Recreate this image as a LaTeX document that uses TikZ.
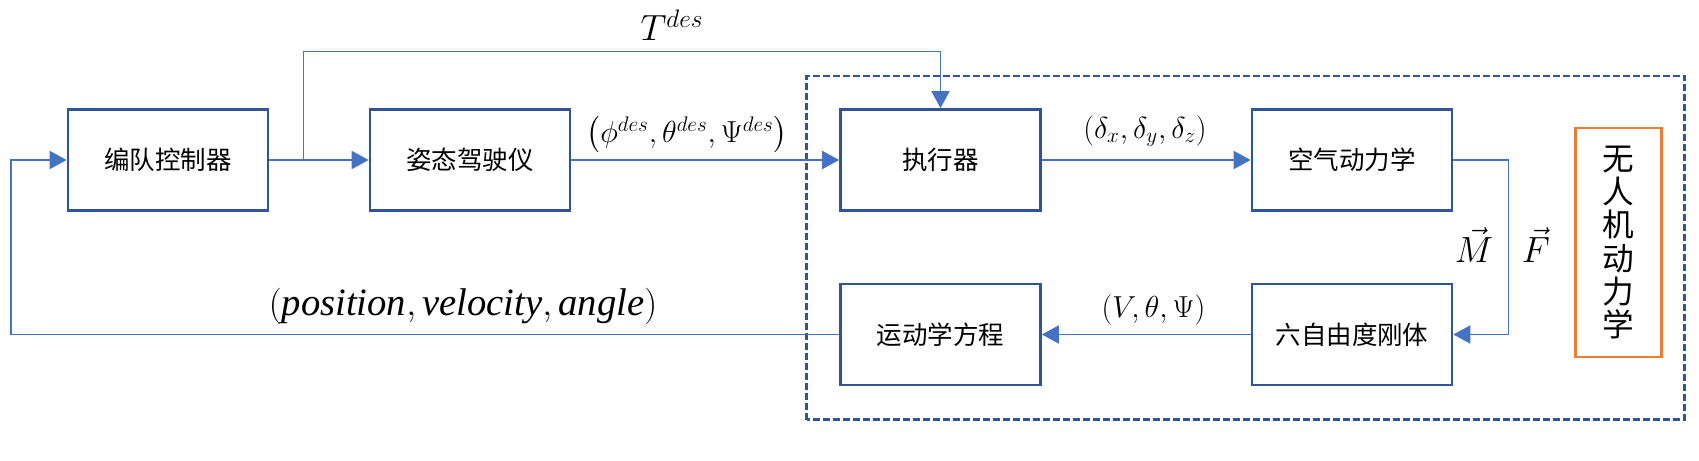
\documentclass[tikz,border=0pt]{standalone}
\usepackage{amsmath}
\usepackage{fontspec}
\setmainfont{Liberation Serif}
\newfontfamily\cjk{Noto Sans CJK SC}
\usetikzlibrary{arrows.meta}
\definecolor{boxblue}{HTML}{2F5597}
\definecolor{lineblue}{HTML}{4472C4}
\definecolor{uavorange}{HTML}{ED7D31}

\begin{document}
\begin{tikzpicture}[
		block/.style={draw=boxblue, line width=1.5pt, minimum width=4cm, minimum height=2.02cm, font=\cjk\fontsize{14.5}{17}\selectfont},
		flow/.style={draw=lineblue, line width=1pt, -{Triangle[length=0.34cm,width=0.36cm]}},
		lbl/.style={font=\fontsize{18}{21}\selectfont}
	]
		\useasboundingbox (0,0) rectangle (33.98,9.2);
		\begin{scope}
			% sottosistema dinamico
			\draw[boxblue, line width=1.5pt, dash pattern=on 0.14cm off 0.06cm] (16.13,0.81) rectangle (33.69,7.68);
			\node[draw=uavorange, line width=1.7pt, minimum width=1.72cm, minimum height=4.58cm, align=center, font=\cjk\fontsize{18}{18.8}\selectfont] (uav) at (32.36,4.35) {无\\人\\机\\动\\力\\学};
			% blocchi
			\node[block] (ctrl) at (3.36,6.0) {编队控制器};
			\node[block] (att) at (9.4,6.0) {姿态驾驶仪};
			\node[block] (act) at (18.81,6.0) {执行器};
			\node[block] (aero) at (27.04,6.0) {空气动力学};
			\node[block] (kin) at (18.81,2.51) {运动学方程};
			\node[block] (rigid) at (27.04,2.51) {六自由度刚体};
			\coordinate (split) at (6.07,6.0);
			\coordinate (top) at (6.07,8.17);
			\coordinate (turn) at (30.17,6.0);
			\coordinate (back) at (0.22,2.51);
			% collegamenti
			\draw[flow] (ctrl) -- (att);
			\draw[flow] (split) -- (top) -| (act.north);
			\draw[flow] (att) -- (act);
			\draw[flow] (act) -- (aero);
			\draw[flow] (aero.east) -- (turn) |- (rigid.east);
			\draw[flow] (rigid) -- (kin);
			\draw[flow] (kin.west) -- (back) |- (ctrl.west);
			% etichette
			\node[lbl, font=\fontsize{20}{24}\selectfont] (tdes) at (13.44,8.7) {$T^{des}$};
			\node[lbl] (attcmd) at (13.74,6.5) {$\left(\phi^{des},\theta^{des},\Psi^{des}\right)$};
			\node[lbl] (defl) at (22.9,6.58) {$\left(\delta_x,\delta_y,\delta_z\right)$};
			\node[lbl] (state) at (23.07,3.0) {$(V,\theta,\Psi)$};
			\node[lbl, font=\fontsize{22}{26}\selectfont] (nav) at (9.26,3.08) {$(\mathit{position},\mathit{velocity},\mathit{angle})$};
			\node[lbl, inner sep=1pt, font=\fontsize{21}{25}\selectfont] (moment) at (29.48,4.3) {$\vec{M}$};
			\node[lbl, inner sep=1pt, font=\fontsize{21}{25}\selectfont] (force) at (30.72,4.3) {$\vec{F}$};
		\end{scope}
	\end{tikzpicture}
\end{document}
